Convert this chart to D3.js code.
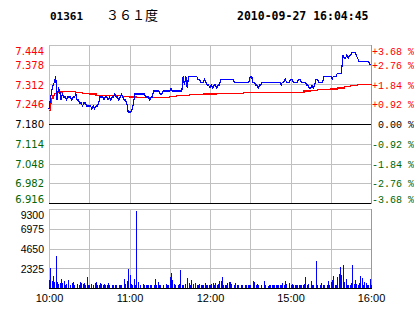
<!DOCTYPE html>
<meta charset="utf-8">
<style>
  body { margin: 0; background: #fff; }
  svg text { white-space: pre; }
</style>
<svg width="414" height="314"></svg>
<script src="https://cdn.jsdelivr.net/npm/d3@7/dist/d3.min.js"></script>
<script>
	// header
	var code = "01361", name = "３６１度", stamp = "2010-09-27 16:04:45";
	var prevClose = 7.180;

	// tick labels
	var priceLevels = [7.444, 7.378, 7.312, 7.246, 7.180, 7.114, 7.048, 6.982, 6.916];
	var pctLabels = ["+3.68 %", "+2.76 %", "+1.84 %", "+0.92 %", "\u00a00.00 %", "-0.92 %", "-1.84 %", "-2.76 %", "-3.68 %"];
	var volLevels = [9300, 6975, 4650, 2325];
	var timeTicks = [0, 60, 120, 180, 240];
	var timeLabels = ["10:00", "11:00", "12:00", "15:00", "16:00"];

	// one price per trading minute, 10:00 .. 12:30 + 14:30 .. 16:00
	var price = [
		7.23, 7.26, 7.29, 7.31, 7.32, 7.34, 7.26, 7.30, 7.29, 7.26,
		7.28, 7.27, 7.27, 7.26, 7.27, 7.27, 7.27, 7.26, 7.27, 7.27,
		7.28, 7.26, 7.26, 7.25, 7.25, 7.24, 7.25, 7.25, 7.24, 7.24,
		7.24, 7.24, 7.23, 7.24, 7.23, 7.24, 7.24, 7.25, 7.27, 7.27,
		7.27, 7.26, 7.27, 7.27, 7.26, 7.27, 7.26, 7.27, 7.27, 7.28,
		7.27, 7.27, 7.26, 7.27, 7.28, 7.27, 7.26, 7.26, 7.25, 7.22,
		7.22, 7.22, 7.23, 7.25, 7.28, 7.28, 7.28, 7.28, 7.28, 7.28,
		7.28, 7.28, 7.27, 7.27, 7.27, 7.26, 7.27, 7.27, 7.29, 7.29,
		7.29, 7.29, 7.29, 7.28, 7.28, 7.29, 7.29, 7.29, 7.29, 7.29,
		7.29, 7.30, 7.29, 7.29, 7.29, 7.29, 7.29, 7.29, 7.29, 7.29,
		7.34, 7.31, 7.34, 7.30, 7.34, 7.34, 7.34, 7.34, 7.34, 7.34,
		7.34, 7.33, 7.33, 7.32, 7.32, 7.32, 7.33, 7.32, 7.31, 7.31,
		7.30, 7.31, 7.30, 7.31, 7.31, 7.30, 7.31, 7.31, 7.33, 7.33,
		7.33, 7.33, 7.33, 7.33, 7.33, 7.33, 7.33, 7.33, 7.32, 7.32,
		7.32, 7.32, 7.32, 7.32, 7.32, 7.32, 7.32, 7.32, 7.32, 7.32,
		7.34, 7.34, 7.32, 7.32, 7.31, 7.31, 7.30, 7.31, 7.31, 7.32,
		7.32, 7.32, 7.32, 7.32, 7.32, 7.32, 7.32, 7.32, 7.32, 7.32,
		7.32, 7.32, 7.32, 7.31, 7.32, 7.32, 7.33, 7.32, 7.32, 7.32,
		7.33, 7.33, 7.32, 7.32, 7.32, 7.32, 7.33, 7.33, 7.32, 7.32,
		7.32, 7.32, 7.31, 7.31, 7.30, 7.30, 7.31, 7.30, 7.31, 7.33,
		7.33, 7.32, 7.32, 7.32, 7.32, 7.34, 7.34, 7.34, 7.34, 7.34,
		7.34, 7.33, 7.34, 7.34, 7.34, 7.35, 7.35, 7.35, 7.35, 7.41,
		7.40, 7.40, 7.41, 7.40, 7.41, 7.41, 7.42, 7.42, 7.42, 7.41,
		7.40, 7.39, 7.39, 7.39, 7.39, 7.39, 7.39, 7.39, 7.39, 7.38,
		7.38
	];

	// average price line
	var avgMinutes = [0, 1, 2, 3, 4, 6, 10, 15, 20, 25, 30, 35, 40, 45, 50, 55, 60, 65, 70, 75, 80,
		85, 90, 95, 100, 105, 110, 115, 120, 125, 130, 135, 140, 145, 150, 155, 160, 165, 170, 175,
		180, 185, 190, 195, 200, 205, 210, 215, 220, 225, 230, 235, 240];
	var avgPrice = [7.225, 7.250, 7.265, 7.275, 7.282, 7.287, 7.288, 7.288, 7.286, 7.283, 7.280,
		7.276, 7.274, 7.274, 7.274, 7.273, 7.270, 7.268, 7.268, 7.268, 7.269, 7.269, 7.272, 7.275,
		7.276, 7.279, 7.279, 7.280, 7.280, 7.281, 7.283, 7.283, 7.283, 7.284, 7.284, 7.286, 7.286,
		7.286, 7.286, 7.286, 7.286, 7.286, 7.290, 7.293, 7.294, 7.294, 7.297, 7.300, 7.304, 7.308,
		7.311, 7.313, 7.314];

	// volume per minute
	var volume = [
		940, 2350, 790, 1450, 710, 3800, 710, 470, 590, 1100,
		590, 790, 390, 470, 980, 0, 390, 590, 710, 390,
		0, 470, 390, 710, 590, 470, 590, 390, 1290, 390,
		390, 470, 0, 390, 590, 710, 390, 390, 590, 470,
		310, 470, 390, 390, 590, 310, 0, 390, 310, 390,
		310, 0, 390, 310, 390, 0, 1100, 470, 790, 2280,
		1570, 470, 390, 1100, 390, 9050, 710, 0, 310, 0,
		470, 390, 390, 310, 390, 390, 390, 0, 390, 1100,
		390, 710, 310, 390, 0, 310, 0, 470, 310, 390,
		1260, 1770, 980, 470, 310, 0, 390, 470, 2160, 390,
		310, 470, 0, 1180, 590, 390, 980, 470, 0, 590,
		310, 390, 470, 310, 390, 390, 590, 390, 390, 310,
		390, 470, 540, 390, 590, 310, 470, 790, 790, 1260,
		310, 310, 390, 540, 710, 710, 470, 0, 310, 540,
		390, 310, 0, 390, 310, 0, 390, 310, 310, 390,
		310, 0, 860, 710, 310, 470, 310, 0, 310, 0,
		790, 310, 0, 250, 310, 310, 310, 310, 310, 310,
		310, 310, 390, 310, 590, 310, 860, 470, 0, 590,
		310, 470, 310, 310, 310, 310, 310, 310, 310, 310,
		470, 1260, 310, 470, 0, 790, 390, 310, 0, 3220,
		310, 0, 310, 590, 310, 310, 0, 310, 860, 310,
		710, 980, 1370, 310, 310, 1260, 1650, 2430, 1490, 2750,
		710, 1100, 390, 310, 310, 590, 2750, 470, 980, 470,
		310, 590, 1370, 1180, 390, 710, 590, 310, 310, 1100,
		310
	];

	var svg = d3.select("svg");
	var left = 49, right = 371;
	var pTop = 45, pBottom = 203, vTop = 209, vBottom = 288;

	var x = d3.scaleLinear().domain([0, 240]).range([left, right]);
	var yP = d3.scaleLinear().domain([6.916, 7.444]).range([pBottom, pTop]);
	var yV = d3.scaleLinear().domain([0, 9300]).range([vBottom, vTop]);
	var px = function(v) { return Math.round(v) + 0.5; };

	var grid = svg.append("g").attr("shape-rendering", "crispEdges").attr("fill", "none");
	// vertical grid, every 30 minutes
	d3.range(0, 241, 30).forEach(function(m) {
		grid.append("line").attr("x1", px(x(m))).attr("x2", px(x(m)))
			.attr("y1", pTop).attr("y2", pBottom).attr("stroke", "#c0c0c0");
		grid.append("line").attr("x1", px(x(m))).attr("x2", px(x(m)))
			.attr("y1", vTop).attr("y2", vBottom).attr("stroke", "#c0c0c0");
	});
	priceLevels.forEach(function(v) {
		var black = (v === prevClose || v === 6.916);
		grid.append("line").attr("x1", left).attr("x2", right + 1)
			.attr("y1", px(yP(v))).attr("y2", px(yP(v)))
			.attr("stroke", black ? "#000" : "#c0c0c0");
	});
	volLevels.concat([0]).forEach(function(v) {
		grid.append("line").attr("x1", left).attr("x2", right + 1)
			.attr("y1", px(yV(v))).attr("y2", px(yV(v)))
			.attr("stroke", v === 0 ? "#000" : "#c0c0c0");
	});
	// right borders
	grid.append("line").attr("x1", px(x(240))).attr("x2", px(x(240)))
		.attr("y1", pTop).attr("y2", pBottom + 1).attr("stroke", "#999");
	grid.append("line").attr("x1", px(x(240))).attr("x2", px(x(240)))
		.attr("y1", vTop).attr("y2", vBottom).attr("stroke", "#999");

	// volume bars
	svg.append("g").attr("shape-rendering", "crispEdges")
		.selectAll("rect").data(volume).join("rect")
		.attr("x", function(d, i) { return Math.round(x(i)); })
		.attr("width", 1)
		.attr("y", function(d) { return Math.round(yV(d)); })
		.attr("height", function(d) { return Math.round(yV(0)) - Math.round(yV(d)); })
		.attr("fill", "#0000ff");

	// average and price lines
	var avgLine = d3.line()
		.x(function(d, i) { return x(avgMinutes[i]); })
		.y(function(d) { return yP(d); })
		.curve(d3.curveStepAfter);
	svg.append("path").datum(avgPrice).attr("d", avgLine)
		.attr("fill", "none").attr("stroke", "#ff0000").attr("stroke-width", 1.2)
		.attr("shape-rendering", "crispEdges");

	var priceLine = d3.line()
		.x(function(d, i) { return x(i); })
		.y(function(d) { return yP(d); });
	svg.append("path").datum(price).attr("d", priceLine)
		.attr("fill", "none").attr("stroke", "#0000ff").attr("stroke-width", 1.2)
		.attr("shape-rendering", "crispEdges");

	function colorOf(v) {
		return v > prevClose + 1e-9 ? "#ff0000" : (v < prevClose - 1e-9 ? "#006600" : "#000");
	}
	function clampText(sel, first, last) {
		sel.selectAll(".tick text").attr("dy", function(d, i, n) {
			if (i === 0 && first) return "0.95em";
			if (i === n.length - 1 && last) return "-0.05em";
			return "0.36em";
		});
	}

	// left price axis
	var ax = svg.append("g").attr("transform", "translate(" + left + ",0)")
		.call(d3.axisLeft(yP).tickValues(priceLevels).tickFormat(d3.format(".3f")).tickSize(0).tickPadding(5));
	ax.select(".domain").remove();
	ax.selectAll("text").attr("font-family", "DejaVu Sans, Verdana, sans-serif").attr("font-size", 10)
		.attr("fill", function(d) { return colorOf(d); });
	clampText(ax, true, true);

	// right percent axis
	var ar = svg.append("g").attr("transform", "translate(" + right + ",0)")
		.call(d3.axisRight(yP).tickValues(priceLevels)
			.tickFormat(function(d, i) { return pctLabels[i]; }).tickSize(0).tickPadding(1));
	ar.select(".domain").remove();
	ar.selectAll("text").attr("font-family", "Liberation Mono, DejaVu Sans Mono, monospace").attr("font-size", 10)
		.attr("fill", function(d) { return colorOf(d); });
	clampText(ar, true, true);

	// volume axis
	var av = svg.append("g").attr("transform", "translate(" + left + ",0)")
		.call(d3.axisLeft(yV).tickValues(volLevels).tickFormat(d3.format("d")).tickSize(0).tickPadding(5));
	av.select(".domain").remove();
	av.selectAll("text").attr("font-family", "Liberation Sans, Arial, sans-serif").attr("font-size", 10.5).attr("fill", "#000");
	clampText(av, true, false);

	// time axis
	var at = svg.append("g").attr("transform", "translate(0," + vBottom + ")")
		.call(d3.axisBottom(x).tickValues(timeTicks)
			.tickFormat(function(d, i) { return timeLabels[i]; }).tickSize(0).tickPadding(6));
	at.select(".domain").remove();
	at.selectAll("text").attr("font-family", "Liberation Sans, Arial, sans-serif").attr("font-size", 11).attr("fill", "#000");

	// header
	svg.append("text").attr("x", 50).attr("y", 20).text(code)
		.attr("font-family", "DejaVu Sans Mono, monospace").attr("font-weight", "bold").attr("font-size", 11);
	svg.append("text").attr("x", 106).attr("y", 20).text(name)
		.attr("font-family", "Noto Sans CJK SC, sans-serif").attr("font-size", 13);
	svg.append("text").attr("x", 237).attr("y", 20).text(stamp)
		.attr("font-family", "DejaVu Sans Mono, monospace").attr("font-weight", "bold").attr("font-size", 11.5);
</script>
